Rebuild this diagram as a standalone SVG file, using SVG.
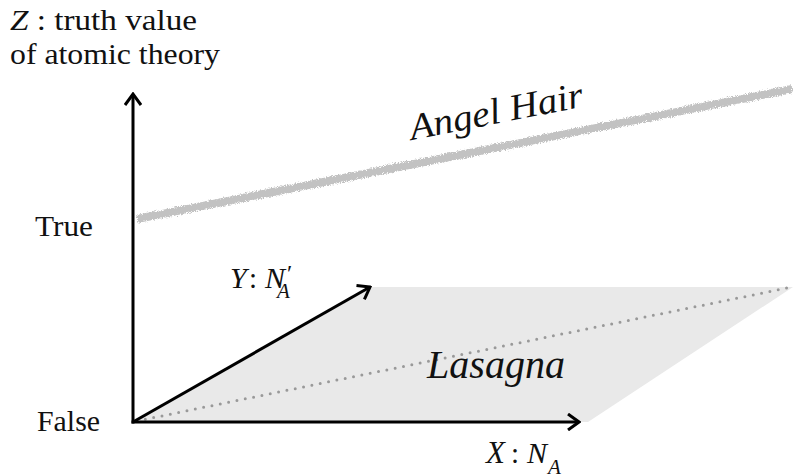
<svg xmlns="http://www.w3.org/2000/svg" width="795" height="474" viewBox="0 0 795 474">
  <style>
    .lbl { font-family: "Liberation Serif", "DejaVu Serif", serif; font-size: 29px; fill: #111; }
    .it { font-style: italic; }
    .sub { font-style: italic; font-size: 21px; }
    .axis { stroke: #000; stroke-width: 3; fill: none; }
  </style>
  <defs>
    <marker id="arr" viewBox="-14 -9 16 18" markerWidth="16" markerHeight="18" refX="0" refY="0" orient="auto" markerUnits="userSpaceOnUse">
      <path d="M-11,-8 L0,0 L-11,8" fill="none" stroke="#000" stroke-width="3" stroke-linecap="butt" stroke-linejoin="miter"/>
    </marker>
    <filter id="rough" x="-5%" y="-50%" width="110%" height="200%">
      <feTurbulence type="fractalNoise" baseFrequency="1.2" numOctaves="2" seed="3" result="n"/>
      <feDisplacementMap in="SourceGraphic" in2="n" scale="5" xChannelSelector="R" yChannelSelector="G"/>
    </filter>
  </defs>

  <g id="lasagna">
    <polygon points="133,422 588,422 793,287 370,287" fill="#e9e9e9"/>
    <line x1="137" y1="421" x2="792" y2="287" stroke="#999" stroke-width="3" stroke-linecap="round" stroke-dasharray="0 8.5"/>
    <text class="lbl it" x="427" y="378" style="font-size:41px" textLength="138" lengthAdjust="spacingAndGlyphs">Lasagna</text>
  </g>

  <g id="angel-hair">
    <line x1="137" y1="219" x2="792" y2="89" stroke="#c2c2c2" stroke-width="8" filter="url(#rough)"/>
    <text class="lbl it" transform="translate(412,140) rotate(-11)" style="font-size:37px" textLength="176" lengthAdjust="spacingAndGlyphs">Angel Hair</text>
  </g>

  <g id="connectors">
    <line class="axis" x1="133" y1="423.5" x2="133" y2="94" marker-end="url(#arr)"/>
    <line class="axis" x1="131.5" y1="422" x2="579" y2="422" marker-end="url(#arr)"/>
    <line class="axis" x1="133" y1="422" x2="370" y2="287" marker-end="url(#arr)"/>
  </g>

  <g id="z-label">
    <text class="lbl" x="10" y="30" textLength="187" lengthAdjust="spacingAndGlyphs"><tspan class="it">Z</tspan> : truth value</text>
    <text class="lbl" x="10" y="64" textLength="210" lengthAdjust="spacingAndGlyphs">of atomic theory</text>
  </g>
  <g id="true-label"><text class="lbl" x="35" y="236" textLength="58" lengthAdjust="spacingAndGlyphs">True</text></g>
  <g id="false-label"><text class="lbl" x="37" y="431" textLength="63" lengthAdjust="spacingAndGlyphs">False</text></g>
  <g id="y-label">
    <text class="lbl" x="230" y="288"><tspan class="it" style="font-size:30px">Y</tspan><tspan x="249">:</tspan><tspan class="it" x="265" style="font-size:30px">N</tspan><tspan x="287" y="281" style="font-size:24px">′</tspan><tspan class="sub" x="277" y="298">A</tspan></text>
  </g>
  <g id="x-label">
    <text class="lbl" x="486" y="463"><tspan class="it" style="font-size:31px">X</tspan><tspan x="511">:</tspan><tspan class="it" x="527" style="font-size:30px">N</tspan><tspan class="sub" x="548" y="474">A</tspan></text>
  </g>
</svg>
